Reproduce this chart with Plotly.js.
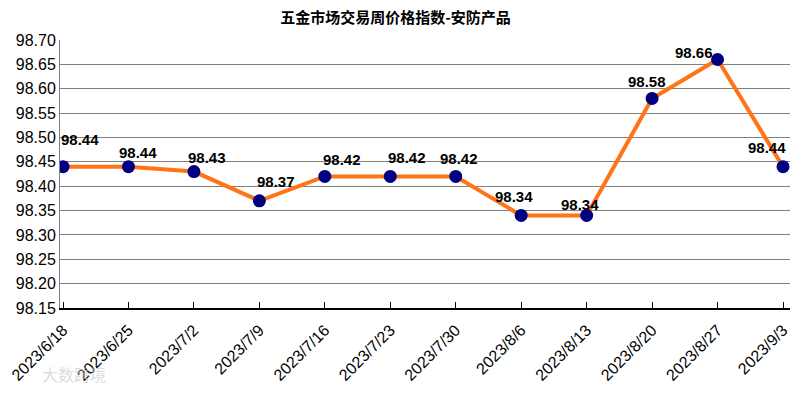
<!DOCTYPE html>
<html>
<head>
<meta charset="utf-8">
<script src="https://cdn.plot.ly/plotly-3.0.1.min.js"></script>
<style>html,body{margin:0;padding:0;background:#fff;}#chart{width:791px;height:394px;}</style>
</head>
<body>
<div id="chart"></div>
<script>
const dates = ["2023/6/18","2023/6/25","2023/7/2","2023/7/9","2023/7/16","2023/7/23","2023/7/30","2023/8/6","2023/8/13","2023/8/20","2023/8/27","2023/9/3"];
const values = [98.44, 98.44, 98.43, 98.37, 98.42, 98.42, 98.42, 98.34, 98.34, 98.58, 98.66, 98.44];
const yTicks = [98.15, 98.20, 98.25, 98.30, 98.35, 98.40, 98.45, 98.50, 98.55, 98.60, 98.65, 98.70];
const titleText = "五金市场交易周价格指数-安防产品";

// label offsets (px) relative to each point
const labelDx = [17, 10, 13, 17, 17, 17, 3, -7, -7, -5, -24, -16];
const labelDy = [27, 14, 14, 19, 17, 19, 18, 19, 11, 17, 7, 19];

const idx = dates.map((d, i) => i);

const annotations = values.map((v, i) => ({
  x: i, y: v, xref: 'x', yref: 'y',
  text: v.toFixed(2), showarrow: false,
  xshift: labelDx[i], yshift: labelDy[i],
  font: {family: 'Liberation Sans, Arial, sans-serif', size: 15, color: '#000', weight: 'bold'}
}));
annotations.push({
  xref: 'paper', yref: 'paper', x: -0.028, y: -0.245, xanchor: 'left', yanchor: 'middle',
  text: '大数跨境', showarrow: false,
  font: {family: 'Noto Sans CJK SC', size: 16, color: 'rgba(195,195,195,0.6)'}
});

const trace = {
  x: idx, y: values, type: 'scatter', mode: 'lines+markers',
  line: {color: '#FF7415', width: 4},
  marker: {color: '#000080', size: 13},
  hoverinfo: 'none'
};

const layout = {
  width: 791, height: 394,
  margin: {l: 60, r: 1, t: 40, b: 86},
  paper_bgcolor: '#fff', plot_bgcolor: '#fff',
  showlegend: false,
  title: {text: '<b>' + titleText + '</b>', x: 0.5, xanchor: 'center', y: 0.955, yanchor: 'middle',
    font: {family: 'Noto Sans CJK SC', size: 15, color: '#000'}},
  xaxis: {
    range: [-0.046, 11.107],
    tickmode: 'array', tickvals: idx, ticktext: dates,
    tickangle: -45, ticks: 'inside', ticklen: 6, tickcolor: '#000', tickwidth: 1,
    ticklabelstandoff: 5,
    showline: true, linecolor: '#000', linewidth: 1.5,
    showgrid: false, zeroline: false,
    tickfont: {family: 'Liberation Sans, Arial, sans-serif', size: 16, color: '#000'}
  },
  yaxis: {
    range: [98.15, 98.70],
    tickmode: 'array', tickvals: yTicks, ticktext: yTicks.map(t => t.toFixed(2)),
    showgrid: true, gridcolor: '#808080', gridwidth: 1,
    showline: true, linecolor: '#808080', linewidth: 1,
    ticks: '', zeroline: false,
    tickfont: {family: 'Liberation Sans, Arial, sans-serif', size: 16, color: '#000'}
  },
  annotations: annotations
};

Plotly.newPlot('chart', [trace], layout, {displayModeBar: false, staticPlot: true});
</script>
</body>
</html>
